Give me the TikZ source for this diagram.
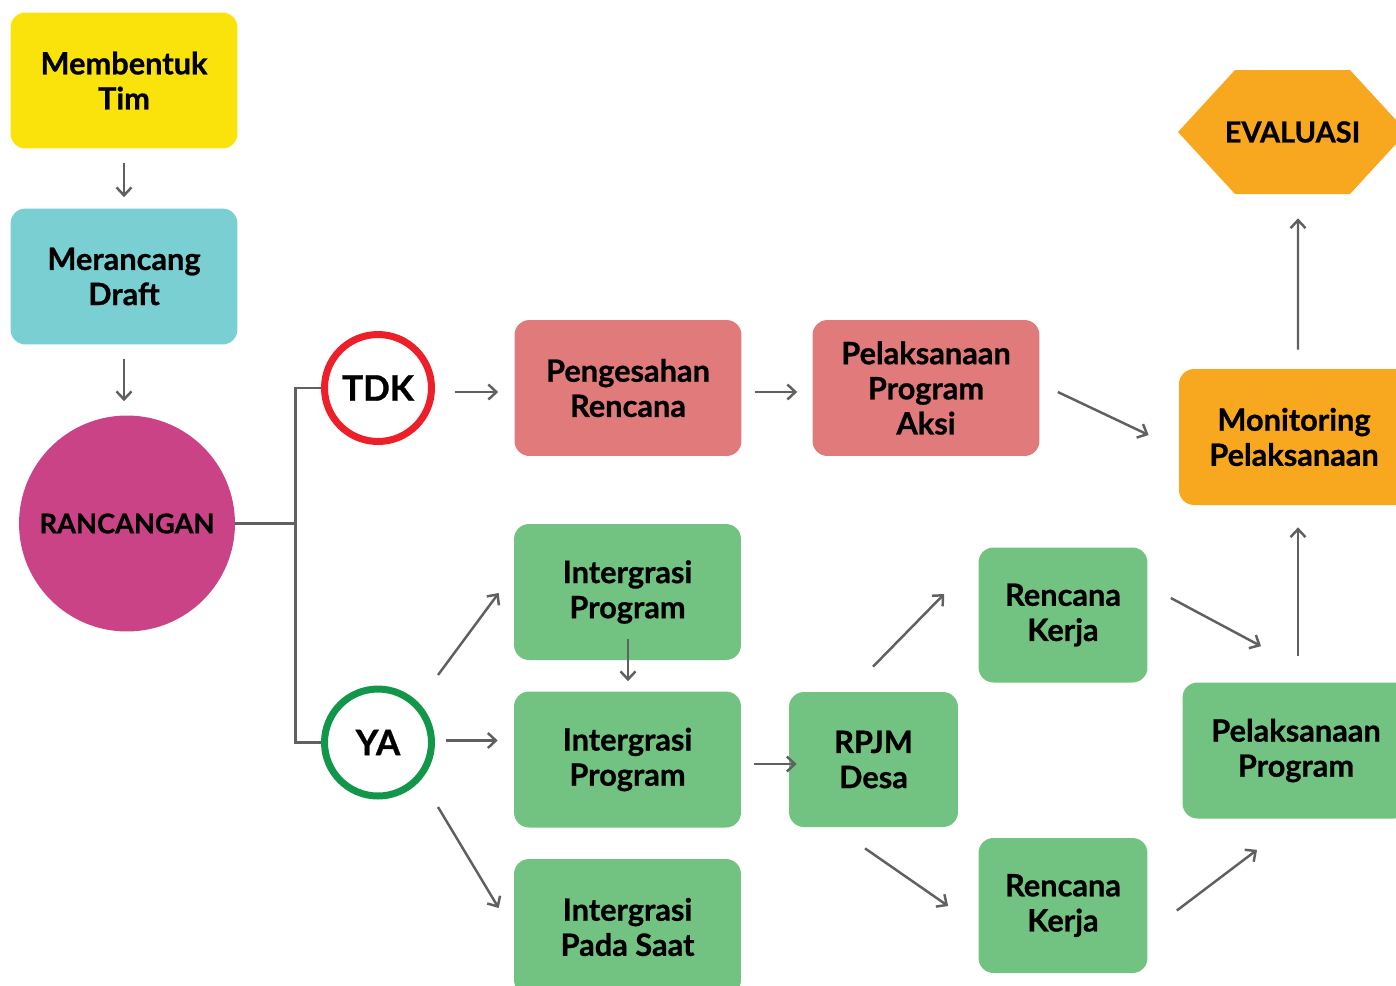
\documentclass[tikz,border=0pt]{standalone}
\usepackage{fontspec}
\setmainfont{Lato}[BoldFeatures={FakeBold=0.8}]
\usetikzlibrary{arrows.meta,calc}

\definecolor{timyellow}{HTML}{F9E30A}
\definecolor{draftteal}{HTML}{7ACFD3}
\definecolor{rancmagenta}{HTML}{C94386}
\definecolor{tdkred}{HTML}{ED1F28}
\definecolor{yagreen}{HTML}{11964A}
\definecolor{sahpink}{HTML}{E07A7B}
\definecolor{progreen}{HTML}{72C381}
\definecolor{evalorange}{HTML}{F8A81F}
\definecolor{linegray}{HTML}{606060}

\begin{document}
\begin{tikzpicture}[x=0.02cm,y=-0.02cm,
box/.style = {rectangle, rounded corners=0.3cm, minimum width=4.54cm,
        minimum height=2.72cm, align=center, inner sep=0pt,
        font=\fontsize{17.5}{20}\selectfont\bfseries},
smallbox/.style = {box, minimum width=3.38cm, minimum height=2.7cm},
ring/.style = {circle, draw, line width=0.14cm, minimum size=2.14cm,
        inner sep=0pt, fill=white, font=\fontsize{20}{24}\selectfont\bfseries},
link/.style = {line width=1.4pt, draw=linegray},
flow/.style = {link, -{Straight Barb[length=0.16cm,width=0.3cm]}},
]
        \useasboundingbox (0,0) rectangle (1396,985);
        \clip (0,0) rectangle (1396,985);

        % left column
        \node[box,fill=timyellow] (tim) at (124,80.5) {Membentuk\\Tim};
        \node[box,fill=draftteal] (draft) at (124,276.5) {Merancang\\Draft};
        \node[circle,fill=rancmagenta,minimum size=4.32cm,inner sep=0pt,
            font=\fontsize{15.5}{18}\selectfont\bfseries] (ranc) at (127,523.5) {RANCANGAN};

        % decision
        \node[ring,draw=tdkred] (tdk) at (378,388) {TDK};
        \node[ring,draw=yagreen] (ya) at (378,742.5) {YA};

        % TDK branch
        \node[box,fill=sahpink] (sah) at (628,388) {Pengesahan\\Rencana};
        \node[box,fill=sahpink] (aksi) at (926,388) {Pelaksanaan\\Program\\Aksi};

        % YA branch
        \node[box,fill=progreen] (int1) at (627.5,592) {Intergrasi\\Program};
        \node[box,fill=progreen] (int2) at (627.5,759.5) {Intergrasi\\Program};
        \node[box,fill=progreen] (int3) at (627.5,927) {Intergrasi\\Pada Saat};
        \node[smallbox,fill=progreen] (rpjm) at (873.5,759.5) {RPJM\\Desa};
        \node[smallbox,fill=progreen] (kerja1) at (1063,615) {Rencana\\Kerja};
        \node[smallbox,fill=progreen] (kerja2) at (1063,905.5) {Rencana\\Kerja};
        \node[box,fill=progreen] (pprog) at (1296,750.5) {Pelaksanaan\\Program};

        % right column
        \node[box,fill=evalorange,minimum width=4.6cm] (monev) at (1294,437) {Monitoring\\Pelaksanaan};
        \fill[evalorange] (1178,132) -- (1235,70) -- (1350,70) -- (1407,132)
            -- (1350,194) -- (1235,194) -- cycle;
        \node[minimum width=4.6cm,minimum height=2.48cm,
            font=\fontsize{16.5}{20}\selectfont\bfseries] (eval) at (1292.5,132) {EVALUASI};

        % connectors
        \draw[flow] ($(tim.south)+(0,14)$) -- ($(draft.north)+(0,-11)$);
        \draw[flow] ($(draft.south)+(0,14)$) -- ($(ranc.north)+(-3,-14)$);
        \draw[link] (ranc.east) -- ++(60,0) coordinate (fork);
        \draw[link] (tdk.west) -| (fork) |- (ya.west);

        \draw[flow] ($(tdk.east)+(20,4)$) -- ($(sah.west)+(-16,4)$);
        \draw[flow] ($(sah.east)+(13,4)$) -- ($(aksi.west)+(-15,4)$);
        \draw[flow] ($(aksi.east)+(18,4)$) -- ($(monev.west)+(-30,-2)$);
        \draw[flow] ($(monev.north)+(4,-19)$) -- ($(eval.south)+(5.5,24)$);

        \draw[flow] ($(ya)+(60,-67.5)$) -- ($(int1.west)+(-15,1)$);
        \draw[flow] ($(ya.east)+(11,-2)$) -- ($(int2.west)+(-16,-19)$);
        \draw[flow] ($(ya)+(60,64.5)$) -- ($(int3.west)+(-15,-19)$);
        \draw[flow] ($(int1.south)+(0.5,-21)$) -- ($(int2.north)+(0.5,-10)$);
        \draw[flow] ($(int2.east)+(13,4.5)$) -- ($(rpjm.west)+(8,4.5)$);

        \draw[flow] ($(rpjm.north)+(-0.5,-25)$) -- ($(kerja1.west)+(-34,-21)$);
        \draw[flow] ($(rpjm.south)+(-8.5,21)$) -- ($(kerja2.west)+(-30,0.5)$);
        \draw[flow] ($(kerja1.east)+(23,-17)$) -- ($(pprog.north)+(-35,-36)$);
        \draw[flow] ($(kerja2.east)+(29,5)$) -- ($(pprog.south)+(-39,31)$);
        \draw[flow] ($(pprog.north)+(2,-26)$) -- ($(monev.south)+(4,22)$);

    \end{tikzpicture}
\end{document}
